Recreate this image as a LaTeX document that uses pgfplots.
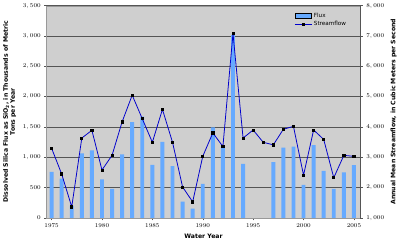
\documentclass[border=0pt]{standalone}
\usepackage{pgfplots}
\pgfplotsset{compat=1.18}
\usepackage{pgfplotstable}
\usepackage{fontspec}
\setmainfont{DejaVu Sans}
\definecolor{fluxblue}{HTML}{66AAFF}
\definecolor{flowblue}{HTML}{0000CC}
\definecolor{plotbg}{HTML}{CFCFCF}
\definecolor{gridc}{HTML}{555555}

\pgfplotstableread{
year flux
1975 760
1976 650
1977 200
1978 1065
1979 1115
1980 635
1981 480
1982 1050
1983 1580
1984 1670
1985 875
1986 1255
1987 855
1988 270
1989 155
1990 560
1991 1495
1992 1165
1993 3020
1994 890
1997 920
1998 1160
1999 1175
2000 545
2001 1200
2002 775
2003 480
2004 750
2005 870
}\fluxtable

\pgfplotstableread{
year flow
1975 3300
1976 2450
1977 1365
1978 3635
1979 3890
1980 2580
1981 3065
1982 4170
1983 5050
1984 4270
1985 3495
1986 4580
1987 3495
1988 2020
1989 1530
1990 3030
1991 3805
1992 3355
1993 7085
1994 3635
1995 3900
1996 3495
1997 3410
1998 3925
1999 4020
2000 2410
2001 3900
2002 3590
2003 2325
2004 3065
2005 3030
}\flowtable

\begin{document}
\begin{tikzpicture}
\pgfplotsset{
  common/.style={
    scale only axis, width=321bp, height=217bp,
    xmin=1974.5, xmax=2005.65,
    tick label style={font=\fontsize{5.8}{6.5}\selectfont},
    label style={font=\fontsize{6.3}{7.2}\selectfont\bfseries},
    /pgf/number format/1000 sep={,},
    tick align=outside, major tick length=2.5bp,
    tick style={gridc, line width=0.5pt},
  }
}
\begin{axis}[common,
  axis background/.style={fill=plotbg},
  axis line style={draw=gray!80},
  ymin=0, ymax=3500, ytick distance=500,
  ymajorgrids, grid style={gridc, line width=0.6pt},
  xtick={1975,1980,...,2005},
  xticklabel style={/pgf/number format/1000 sep=},
  ytick pos=left, xtick pos=bottom,
  xlabel={Water Year},
  ylabel={Dissolved Silica Flux as SiO$_\mathbf{2}$, in Thousands of Metric\\Tons per Year},
  ylabel style={align=center},
]
\addplot[ybar, bar width=4bp, fill=fluxblue, draw=none, bar shift=0pt] table[x=year, y=flux] {\fluxtable};
\end{axis}
\begin{axis}[common,
  axis x line=none,
  axis y line*=right,
  axis line style={draw=gridc},
  ymin=1000, ymax=8000, ytick distance=1000,
  ylabel={Annual Mean Streamflow, in Cubic Meters per Second},
  legend style={draw=none, fill=none, font=\fontsize{5.8}{6.5}\selectfont,
    at={(0.97,0.985)}, anchor=north east, row sep=-1.5pt},
  legend cell align=left,
]
\addlegendimage{area legend, fill=fluxblue, draw=none}
\addlegendentry{Flux}
\addplot[flowblue, line width=0.8pt, mark=square*, mark size=1.1bp,
  mark options={fill=black, draw=black}] table[x=year, y=flow] {\flowtable};
\addlegendentry{Streamflow}
\end{axis}
\end{tikzpicture}
\end{document}
